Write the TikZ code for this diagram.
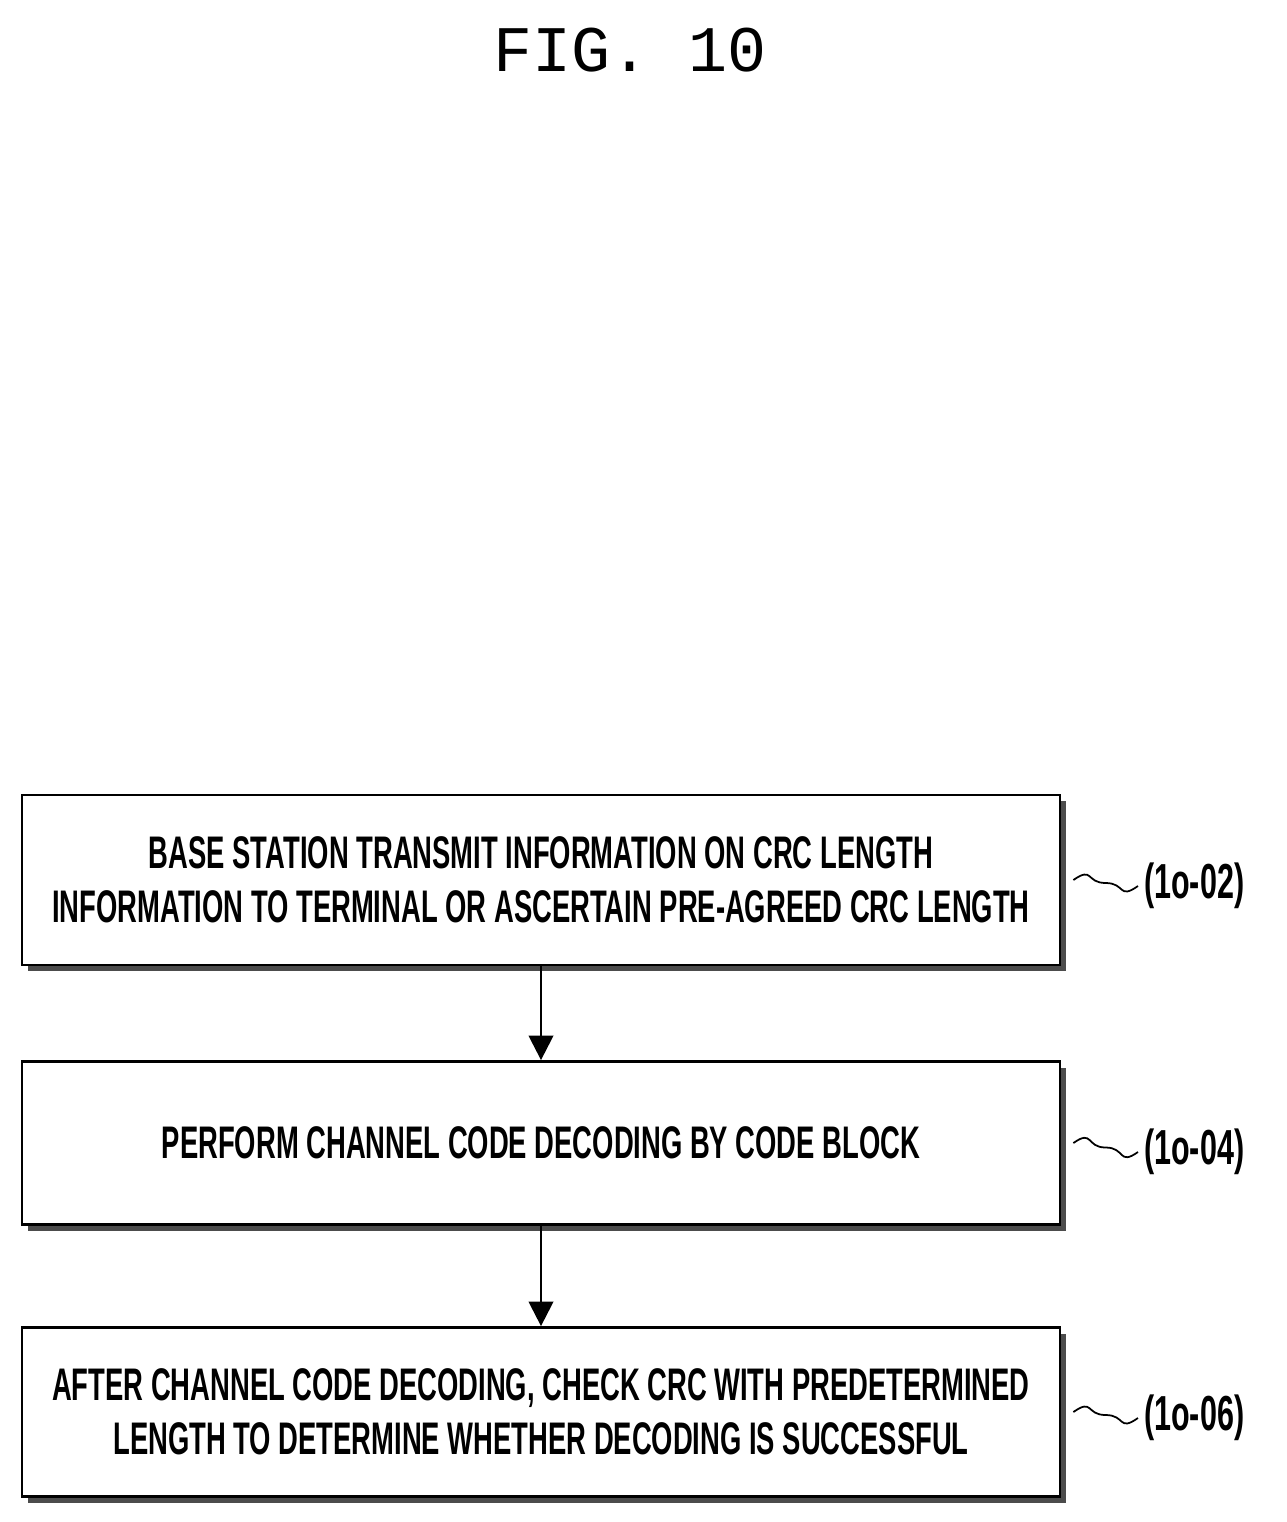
\documentclass[tikz,border=0pt]{standalone}
\usepackage{fontspec}
\setmainfont{Liberation Sans}
\newfontfamily\titlefont{Liberation Mono}
\usetikzlibrary{arrows.meta,calc}
\newcommand\sq[1]{\scalebox{0.6}[1]{#1}}
\newcommand\sqb[1]{\scalebox{0.62}[1]{#1}}
\begin{document}
\begin{tikzpicture}[x=0.02cm,y=-0.02cm,
  box/.style={draw=black,line width=1.6pt,fill=white,minimum width=1038*0.02cm,align=center,font=\fontsize{26}{31}\selectfont\bfseries},
  shad/.style={fill=black!70},
  arr/.style={line width=1.4pt,-{Triangle[length=14pt,width=14pt]}},
  lab/.style={font=\fontsize{28}{32}\selectfont\bfseries,anchor=west}]
\useasboundingbox (0,0) rectangle (1286,1522);
\node[font=\titlefont\fontsize{37}{44}\selectfont] (title) at (630,50) {FIG. 10};
\fill[shad] (28,801) rectangle (1066,971);
\fill[shad] (28,1068) rectangle (1066,1231);
\fill[shad] (28,1334) rectangle (1066,1503);
\node[box,minimum height=170*0.02cm] (b1) at (541,880) {\sq{BASE STATION TRANSMIT INFORMATION ON CRC LENGTH}\\\sq{INFORMATION TO TERMINAL OR ASCERTAIN PRE-AGREED CRC LENGTH}};
\node[box,minimum height=163*0.02cm] (b2) at (541,1143) {\sq{PERFORM CHANNEL CODE DECODING BY CODE BLOCK}};
\node[box,minimum height=169*0.02cm] (b3) at (541,1412) {\sq{AFTER CHANNEL CODE DECODING, CHECK CRC WITH PREDETERMINED}\\\sq{LENGTH TO DETERMINE WHETHER DECODING IS SUCCESSFUL}};
\draw[arr] (b1.south) -- (b2.north);
\draw[arr] (b2.south) -- (b3.north);
\node[lab] (l1) at (1138,886) {\sqb{(1o-02)}};
\node[lab] (l2) at (1138,1152) {\sqb{(1o-04)}};
\node[lab] (l3) at (1138,1418) {\sqb{(1o-06)}};
\foreach \b/\l in {b1/l1,b2/l2,b3/l3}{
  \draw[line width=1pt] ([xshift=12*0.02cm]\b.east) .. controls +(20,-14) and +(-20,0) .. ($([xshift=12*0.02cm]\b.east)!0.5!(\l.west)$) .. controls +(20,0) and +(-20,14) .. (\l.west);
}
\end{tikzpicture}
\end{document}
